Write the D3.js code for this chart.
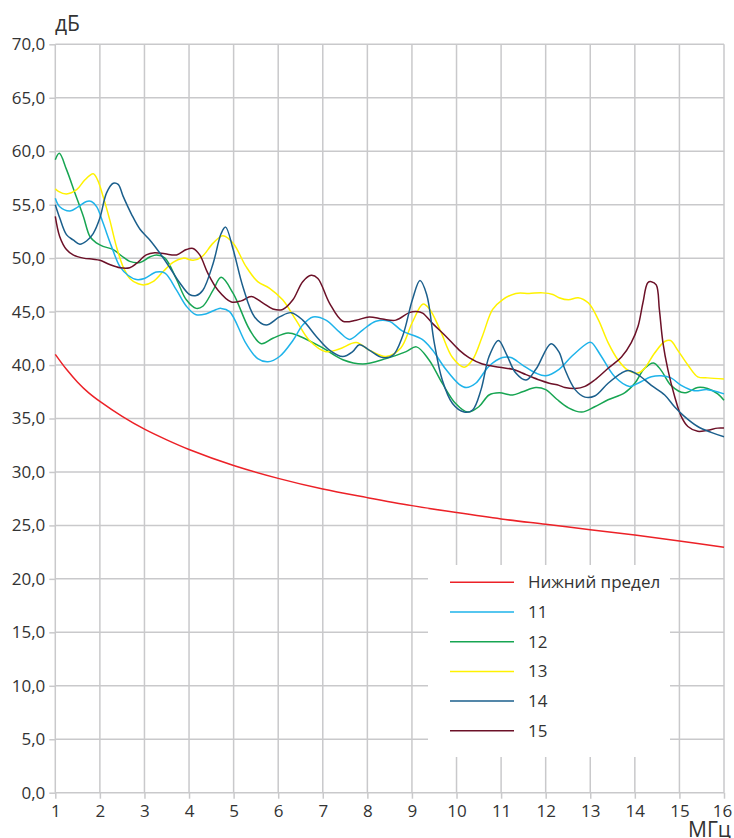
<!DOCTYPE html>
<html>
<head>
<meta charset="utf-8">
<script src="https://cdn.jsdelivr.net/npm/d3@7/dist/d3.min.js"></script>
<style>
  html, body { margin: 0; padding: 0; background: #fff; }
  svg { display: block; font-family: "Open Sans", "Noto Sans", sans-serif; }
</style>
</head>
<body>
<svg id="chart" width="734" height="838"></svg>
<script>
// Frequency axis (MHz) and level axis (dB)
const xTicks = d3.range(1, 17);
const yTicks = d3.range(0, 75, 5);

// Lower limit curve, sampled [MHz, dB]
const limitLow = [
  [1, 41.0], [1.25, 39.6], [1.5, 38.4], [1.75, 37.4], [2, 36.6], [2.5, 35.2], [3, 34.0],
  [3.5, 33.0], [4, 32.1], [5, 30.6], [6, 29.4], [7, 28.4], [8, 27.6], [9, 26.85],
  [10, 26.2], [11, 25.6], [12, 25.1], [13, 24.6], [14, 24.1], [15, 23.55], [16, 22.95]
];

// Measured pairs 11..15, [MHz, dB]
const pair11 = [
  [1.0, 55.6], [1.1, 54.8], [1.33, 54.4], [1.51, 54.8], [1.7, 55.3], [1.81, 55.3], [1.93, 54.8],
  [2.07, 53.3], [2.26, 51.1], [2.45, 49.2], [2.63, 48.4], [2.82, 48.0], [3.0, 48.1], [3.27, 48.7],
  [3.46, 48.6], [3.72, 47.0], [3.94, 45.5], [4.16, 44.7], [4.39, 44.8], [4.61, 45.2], [4.72, 45.3],
  [4.91, 45.0], [5.28, 42.0], [5.54, 40.6], [5.77, 40.3], [6.03, 40.8], [6.33, 42.3], [6.55, 43.75],
  [6.78, 44.5], [7.07, 44.2], [7.37, 43.1], [7.6, 42.4], [7.9, 43.3], [8.19, 44.1], [8.49, 44.1],
  [8.78, 43.2], [9.23, 42.4], [9.46, 41.4], [9.76, 39.6], [10.06, 38.2], [10.22, 37.9], [10.43, 38.3],
  [10.73, 39.9], [11.03, 40.7], [11.22, 40.7], [11.48, 40.0], [11.78, 39.25], [12.0, 39.0], [12.3, 39.6],
  [12.58, 40.8], [12.96, 42.1], [13.03, 42.1], [13.25, 40.8], [13.55, 38.9], [13.88, 38.0], [14.07, 38.3],
  [14.37, 38.9], [14.59, 39.0], [14.81, 38.8], [15.04, 38.1], [15.33, 37.6], [15.63, 37.7], [16.0, 37.3]
];
const pair12 = [
  [1.0, 59.2], [1.09, 59.8], [1.25, 58.3], [1.44, 56.1], [1.63, 53.9], [1.78, 52.0], [1.93, 51.4],
  [2.07, 51.1], [2.3, 50.8], [2.49, 50.2], [2.67, 49.7], [2.9, 49.6], [3.12, 50.1], [3.27, 50.3],
  [3.46, 50.0], [3.72, 48.0], [3.94, 46.1], [4.16, 45.3], [4.31, 45.5], [4.54, 47.0], [4.72, 48.2],
  [4.99, 46.7], [5.36, 43.3], [5.62, 42.0], [5.88, 42.5], [6.22, 43.0], [6.48, 42.7], [7.0, 41.6],
  [7.45, 40.5], [7.9, 40.1], [8.42, 40.6], [8.87, 41.25], [9.1, 41.7], [9.38, 40.5], [9.68, 38.3],
  [9.98, 36.4], [10.25, 35.6], [10.5, 36.1], [10.73, 37.2], [10.96, 37.4], [11.26, 37.2], [11.48, 37.5],
  [11.78, 37.9], [12.0, 37.7], [12.25, 36.8], [12.51, 36.0], [12.81, 35.6], [13.1, 36.1], [13.4, 36.75],
  [13.77, 37.4], [14.0, 38.3], [14.22, 39.7], [14.42, 40.2], [14.59, 39.5], [14.81, 38.1], [15.11, 37.4],
  [15.41, 37.9], [15.63, 37.8], [15.86, 37.3], [16.0, 36.7]
];
const pair13 = [
  [1.0, 56.5], [1.07, 56.25], [1.25, 56.0], [1.48, 56.4], [1.66, 57.3], [1.85, 57.9], [1.95, 57.3],
  [2.07, 55.8], [2.22, 53.6], [2.37, 51.1], [2.52, 49.2], [2.67, 48.1], [2.86, 47.6], [3.0, 47.5],
  [3.19, 47.8], [3.42, 48.75], [3.64, 49.6], [3.87, 50.0], [4.09, 49.8], [4.28, 50.1], [4.54, 51.4],
  [4.76, 52.1], [4.99, 51.4], [5.28, 49.2], [5.54, 47.8], [5.8, 47.2], [6.1, 46.1], [6.4, 44.2],
  [6.7, 42.3], [7.07, 41.25], [7.37, 41.5], [7.75, 42.1], [8.04, 41.4], [8.42, 40.8], [8.75, 41.6],
  [9.01, 44.0], [9.25, 45.7], [9.4, 45.2], [9.64, 43.2], [9.91, 40.7], [10.17, 39.8], [10.36, 40.5],
  [10.58, 42.7], [10.81, 45.2], [11.03, 46.1], [11.33, 46.7], [11.63, 46.7], [11.93, 46.75], [12.16, 46.6],
  [12.3, 46.3], [12.51, 46.1], [12.73, 46.3], [12.96, 45.8], [13.18, 44.25], [13.4, 42.1], [13.62, 40.5],
  [13.85, 39.5], [14.07, 39.25], [14.22, 39.7], [14.44, 41.1], [14.67, 42.2], [14.8, 42.3], [14.96, 41.4],
  [15.19, 40.0], [15.41, 38.9], [15.63, 38.8], [16.0, 38.7]
];
const pair14 = [
  [1.0, 55.0], [1.1, 53.75], [1.25, 52.2], [1.4, 51.7], [1.55, 51.3], [1.7, 51.6], [1.85, 52.3],
  [2.0, 53.75], [2.15, 56.1], [2.3, 57.0], [2.41, 56.9], [2.52, 55.8], [2.71, 54.1], [2.9, 52.7],
  [3.12, 51.7], [3.34, 50.5], [3.57, 49.1], [3.79, 47.7], [4.01, 46.6], [4.16, 46.5], [4.31, 47.0],
  [4.54, 49.5], [4.72, 52.3], [4.82, 52.9], [4.99, 50.8], [5.21, 47.3], [5.47, 44.5], [5.73, 43.75],
  [6.03, 44.5], [6.29, 44.9], [6.55, 44.2], [6.85, 42.7], [7.15, 41.4], [7.45, 40.8], [7.67, 41.25],
  [7.82, 41.9], [8.04, 41.4], [8.34, 40.7], [8.57, 40.9], [8.79, 42.7], [9.01, 46.1], [9.18, 47.9],
  [9.33, 46.6], [9.5, 42.1], [9.68, 38.6], [9.91, 36.4], [10.17, 35.6], [10.36, 35.8], [10.55, 37.7],
  [10.73, 40.8], [10.94, 42.3], [11.11, 41.1], [11.33, 39.25], [11.56, 38.6], [11.78, 39.6], [12.12, 42.0],
  [12.3, 41.2], [12.43, 39.6], [12.66, 37.7], [12.88, 37.0], [13.1, 37.1], [13.4, 38.3], [13.7, 39.25],
  [13.85, 39.5], [14.07, 39.1], [14.37, 38.1], [14.67, 37.2], [14.89, 36.1], [15.11, 35.2], [15.41, 34.25],
  [15.71, 33.7], [16.0, 33.3]
];
const pair15 = [
  [1.0, 53.9], [1.1, 52.0], [1.25, 50.8], [1.4, 50.3], [1.63, 50.0], [1.85, 49.9], [2.0, 49.8],
  [2.22, 49.4], [2.45, 49.1], [2.67, 49.1], [2.82, 49.5], [3.04, 50.3], [3.23, 50.5], [3.46, 50.4],
  [3.72, 50.3], [3.94, 50.8], [4.09, 50.9], [4.24, 50.3], [4.42, 48.6], [4.65, 47.0], [4.95, 45.9],
  [5.17, 46.0], [5.4, 46.4], [5.66, 45.8], [5.88, 45.25], [6.1, 45.2], [6.33, 46.1], [6.55, 47.8],
  [6.74, 48.4], [6.89, 48.1], [7.15, 45.8], [7.45, 44.1], [7.75, 44.2], [8.04, 44.5], [8.34, 44.3],
  [8.64, 44.2], [8.94, 44.9], [9.1, 45.0], [9.24, 44.85], [9.46, 43.9], [9.76, 42.7], [10.06, 41.4],
  [10.28, 40.7], [10.58, 40.1], [10.96, 39.8], [11.26, 39.6], [11.56, 39.1], [11.86, 38.6], [12.08, 38.3],
  [12.3, 38.1], [12.43, 37.9], [12.66, 37.8], [12.88, 38.0], [13.1, 38.6], [13.4, 39.7], [13.7, 40.75],
  [13.92, 42.1], [14.07, 43.6], [14.18, 45.8], [14.29, 47.7], [14.37, 47.8], [14.48, 47.5], [14.55, 45.2],
  [14.63, 42.1], [14.74, 39.6], [14.89, 37.1], [15.04, 35.2], [15.19, 34.25], [15.41, 33.8], [15.63, 33.9],
  [15.86, 34.1], [16.0, 34.1]
];

const seriesNames = ["Нижний предел", "11", "12", "13", "14", "15"];
const seriesData = [limitLow, pair11, pair12, pair13, pair14, pair15];
const seriesColors = ["#ec2127", "#1eb3ea", "#17a552", "#fff200", "#1b5f8c", "#6c1128"];

const svg = d3.select("#chart");
const plotLeft = 55.3, plotRight = 724, plotTop = 44.3, plotBottom = 792.7;

const x = d3.scaleLinear().domain([1, 16]).range([plotLeft, plotRight]);
const y = d3.scaleLinear().domain([0, 70]).range([plotBottom, plotTop]);

const gridColor = "#c9c9cb";
const textColor = "#333333";

// Grid
const grid = svg.append("g");
grid.selectAll("line.v").data(xTicks).join("line").attr("class", "v")
  .attr("x1", d => x(d)).attr("x2", d => x(d))
  .attr("y1", plotTop).attr("y2", plotBottom)
  .attr("stroke", gridColor).attr("stroke-width", 1.5);
grid.selectAll("line.h").data(yTicks).join("line").attr("class", "h")
  .attr("x1", plotLeft).attr("x2", plotRight)
  .attr("y1", d => y(d)).attr("y2", d => y(d))
  .attr("stroke", gridColor).attr("stroke-width", 1.5);

// Axes
const fmt = d => d3.format(".1f")(d).replace(".", ",");
const yAxis = svg.append("g").attr("transform", `translate(${plotLeft},0)`)
  .call(d3.axisLeft(y).tickValues(yTicks).tickFormat(fmt).tickSize(6).tickPadding(4));
const xAxis = svg.append("g").attr("transform", `translate(0,${plotBottom})`)
  .call(d3.axisBottom(x).tickValues(xTicks).tickFormat(d3.format("d")).tickSize(6).tickPadding(6));
[yAxis, xAxis].forEach(a => {
  a.select(".domain").remove();
  a.selectAll(".tick line").attr("stroke", gridColor).attr("stroke-width", 1.5);
  a.selectAll(".tick text").attr("fill", textColor)
    .style("font-size", "17px").style("font-family", "'Open Sans', sans-serif");
});
// last frequency label sits slightly inside the right edge
xAxis.selectAll(".tick text").filter(d => d === 16).attr("dx", -2);

// Curves
const line = d3.line()
  .x(d => x(d[0])).y(d => y(d[1]))
  .curve(d3.curveCatmullRom.alpha(0.5));
const order = [0, 2, 3, 1, 5, 4];
svg.append("g").selectAll("path").data(order).join("path")
  .attr("d", i => line(seriesData[i]))
  .attr("fill", "none")
  .attr("stroke", i => seriesColors[i])
  .attr("stroke-width", 1.5)
  .attr("stroke-linejoin", "round");

// Legend
const legend = svg.append("g");
legend.append("rect")
  .attr("x", 428).attr("y", 565).attr("width", 242).attr("height", 192)
  .attr("fill", "#ffffff");
const item = legend.selectAll("g.item").data(seriesNames).join("g").attr("class", "item")
  .attr("transform", (d, i) => `translate(0,${582.3 + i * 29.7})`);
item.append("line")
  .attr("x1", 450).attr("x2", 514).attr("y1", 0).attr("y2", 0)
  .attr("stroke", (d, i) => seriesColors[i]).attr("stroke-width", 1.5);
item.append("text")
  .attr("x", 528).attr("y", 0).attr("dy", "0.35em")
  .attr("fill", textColor).style("font-size", "17px")
  .text(d => d);

// Axis units
svg.append("text").attr("x", 55).attr("y", 31)
  .attr("fill", textColor).style("font-size", "21px").text("дБ");
svg.append("text").attr("x", 688).attr("y", 837)
  .attr("fill", textColor).style("font-size", "21px").text("МГц");
</script>
</body>
</html>
